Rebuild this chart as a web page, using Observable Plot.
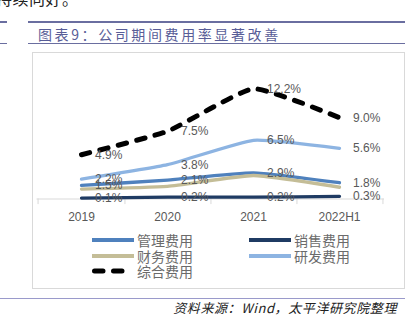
<!DOCTYPE html>
<html><head><meta charset="utf-8">
<script src="https://cdn.jsdelivr.net/npm/d3@7"></script>
<script src="https://cdn.jsdelivr.net/npm/@observablehq/plot@0.6"></script>
<style>
body{margin:0;width:419px;height:331px;overflow:hidden;background:#fff;position:relative;font-family:"Noto Sans CJK SC","Liberation Sans",sans-serif;}
.abs{position:absolute;}
.lg{position:absolute;display:flex;align-items:center;font-size:14px;line-height:14px;height:14px;color:#6b6b6b;white-space:nowrap;}
.lg svg{margin-right:3px;display:block;}
</style></head>
<body>
<div class="abs" style="left:-4px;top:-12px;font-size:16px;line-height:20px;color:#222;letter-spacing:0.5px;">持续向好。</div>
<div class="abs" style="left:0;top:21px;width:7px;height:2px;background:#6a6ea0"></div>
<div class="abs" style="left:28px;top:20.5px;width:377px;height:2.5px;background:#6a6ea0"></div>
<div class="abs" style="left:38px;top:25px;font-size:14px;line-height:18px;color:#585d97;letter-spacing:2.6px;">图表9：公司期间费用率显著改善</div>
<div class="abs" style="left:0;top:42.5px;width:7px;height:1px;background:#6a6ea0"></div>
<div class="abs" style="left:28px;top:42.5px;width:377px;height:1.2px;background:#6a6ea0"></div>
<div class="abs" style="left:32px;top:52px;width:371px;height:235px;border:1px solid #d9d9d9;"></div>
<div id="chart" class="abs" style="left:32px;top:52px;"></div>
<div id="legend"></div>
<div class="abs" style="left:0;top:297.5px;width:405px;height:1.5px;background:#9a9acb"></div>
<div class="abs" style="right:22px;top:300px;font-size:13px;line-height:16px;font-style:italic;color:#222;letter-spacing:0.6px;">资料来源：Wind，太平洋研究院整理</div>
<script>
const years = ["2019", "2020", "2021", "2022H1"];
const mgmt  = [1.5, 2.1, 2.9, 1.8];   // 管理费用
const sales = [0.1, 0.2, 0.2, 0.3];   // 销售费用
const fin   = [1.1, 1.4, 2.6, 1.3];   // 财务费用
const rd    = [2.2, 3.8, 6.5, 5.6];   // 研发费用
const total = [4.9, 7.5, 12.2, 9.0];  // 综合费用

const seriesNames = ["管理费用", "销售费用", "财务费用", "研发费用", "综合费用"];
const seriesVals = [mgmt, sales, fin, rd, total];
const colors = ["#4f81bd", "#1f3b63", "#c4bd97", "#8db4e2", "#000000"];
const labeled = [true, true, false, true, true];

const table = (vals) => years.map((y, i) => ({year: y, v: vals[i]}));
const W = 372, H = 175, mL = 4.5, mR = 20, mT = 20, mB = 28.5;
const half = (W - mL - mR) / years.length / 2;

const marks = [
  Plot.ruleY([0], {stroke: "#d9d9d9", strokeWidth: 1}),
  Plot.ruleX(years, {x: d => d, y1: 0, y2: -0.62, dx: half, stroke: "#d9d9d9"}),
  Plot.ruleX([years[0]], {x: d => d, y1: 0, y2: -0.62, dx: -half, stroke: "#d9d9d9"})
];
const order = [0, 1, 2, 3, 4];
for (const i of order) {
  const isTotal = i === 4;
  marks.push(Plot.line(table(seriesVals[i]), {
    x: "year", y: "v", curve: "cardinal", tension: 0.55,
    stroke: colors[i],
    strokeWidth: isTotal ? 5 : 3.3,
    strokeDasharray: isTotal ? "8.5,10.5" : null,
    strokeLinecap: "round", strokeLinejoin: "round"
  }));
}
for (const i of order) {
  if (!labeled[i]) continue;
  marks.push(Plot.text(table(seriesVals[i]), {
    x: "year", y: "v", text: d => d.v.toFixed(1) + "%",
    textAnchor: "start", dx: 13.5, fill: "#595959", fontSize: 12
  }));
}

const chart = Plot.plot({
  width: W, height: H,
  marginLeft: mL, marginRight: mR, marginTop: mT, marginBottom: mB,
  style: {fontFamily: "Liberation Sans, Arial, sans-serif", fontSize: "12px", color: "#595959", background: "transparent", overflow: "visible"},
  x: {type: "point", domain: years, padding: 0.5, tickSize: 0, tickPadding: 13, label: null},
  y: {domain: [0, 14], axis: null},
  marks
});
document.getElementById("chart").appendChild(chart);

// legend
const legendPos = [
  {i: 0, left: 92, top: 233},
  {i: 1, left: 249, top: 233},
  {i: 2, left: 92, top: 248.5},
  {i: 3, left: 249, top: 248.5},
  {i: 4, left: 92, top: 264}
];
const lg = document.getElementById("legend");
for (const p of legendPos) {
  const d = document.createElement("div");
  d.className = "lg";
  d.style.left = p.left + "px";
  d.style.top = p.top + "px";
  const isTotal = p.i === 4;
  const sw = isTotal ? 5 : 4;
  const dash = isTotal ? ' stroke-dasharray="8.5,10.5" stroke-linecap="round"' : '';
  const x1 = isTotal ? 2.5 : 0, x2 = isTotal ? 40 : 42;
  d.innerHTML = `<svg width="42" height="10"><line x1="${x1}" x2="${x2}" y1="5" y2="5" stroke="${colors[p.i]}" stroke-width="${sw}"${dash}/></svg><span>${seriesNames[p.i]}</span>`;
  lg.appendChild(d);
}
</script>
</body></html>
